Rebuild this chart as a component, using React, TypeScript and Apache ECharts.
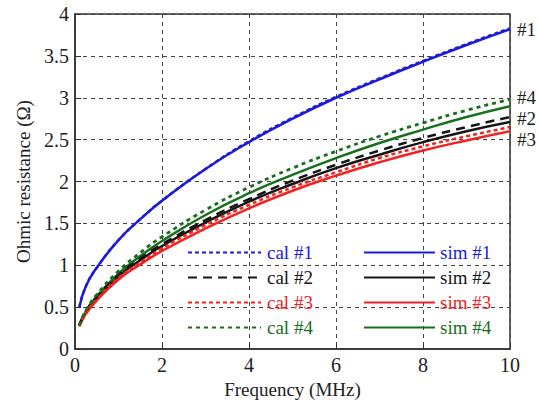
import React, { useEffect, useRef } from "react";
import * as echarts from "echarts";

const freq = [0.1, 0.25, 0.5, 1, 1.5, 2, 3, 4, 5, 6, 7, 8, 9, 10];
const sim1 = [0.5, 0.75, 0.97, 1.3, 1.55, 1.77, 2.15, 2.47, 2.75, 3.0, 3.22, 3.43, 3.63, 3.82];
const cal1 = [0.5, 0.75, 0.97, 1.3, 1.55, 1.77, 2.15, 2.48, 2.76, 3.01, 3.23, 3.44, 3.64, 3.83];
const sim2 = [0.28, 0.44, 0.61, 0.87, 1.06, 1.23, 1.51, 1.76, 1.97, 2.16, 2.32, 2.47, 2.6, 2.71];
const cal2 = [0.28, 0.45, 0.62, 0.88, 1.08, 1.25, 1.54, 1.79, 2.01, 2.2, 2.37, 2.52, 2.65, 2.77];
const sim3 = [0.27, 0.42, 0.58, 0.83, 1.01, 1.17, 1.44, 1.68, 1.89, 2.07, 2.23, 2.37, 2.49, 2.6];
const cal3 = [0.27, 0.43, 0.59, 0.85, 1.03, 1.2, 1.48, 1.72, 1.93, 2.11, 2.28, 2.42, 2.54, 2.65];
const sim4 = [0.28, 0.45, 0.63, 0.9, 1.11, 1.29, 1.6, 1.86, 2.08, 2.28, 2.46, 2.62, 2.77, 2.9];
const cal4 = [0.29, 0.46, 0.65, 0.93, 1.15, 1.34, 1.66, 1.93, 2.16, 2.36, 2.54, 2.7, 2.85, 2.98];

const BLUE = "#1c1cd8";
const BLACK = "#151515";
const RED = "#f22222";
const GREEN = "#186f1d";
const FONT = "Liberation Serif";

export default function App() {
  const ref = useRef<HTMLDivElement>(null);
  useEffect(() => {
    if (!ref.current) return;
    const chart = echarts.init(ref.current, undefined, { renderer: "svg" });
    const pairs = (ys: number[]) => freq.map((x, i) => [x, ys[i]]);
    const mk = (
      name: string,
      data: number[],
      color: string,
      type: any,
      width: number,
      z: number,
      endText?: string,
      offset?: number[]
    ) => ({
      name,
      type: "line",
      data: pairs(data),
      smooth: true,
      symbol: "none",
      z,
      lineStyle: { color, width, type },
      itemStyle: { color },
      endLabel: endText
        ? {
            show: true,
            formatter: endText,
            distance: 7,
            offset: offset || [0, 0],
            color: "#222",
            fontFamily: FONT,
            fontSize: 19,
            width: 30,
            overflow: "none",
          }
        : undefined,
    });
    const legText = (name: string, color: string) => ({
      name,
      textStyle: { color },
    });
    const axisCommon = {
      nameLocation: "middle",
      nameTextStyle: { fontFamily: FONT, fontSize: 19, color: "#222" },
      axisLine: { show: true, lineStyle: { color: "#333", width: 1.5 } },
      axisTick: { show: true, inside: true, length: 6, lineStyle: { color: "#333" } },
      axisLabel: { fontFamily: FONT, fontSize: 20, color: "#222", margin: 6 },
      splitLine: { show: true, lineStyle: { color: "#444", width: 1, type: [4, 4] } },
    };
    chart.setOption({
      animation: false,
      grid: {
        left: 75,
        right: 28,
        top: 14,
        bottom: 55,
        show: true,
        borderColor: "#333",
        borderWidth: 1.5,
        backgroundColor: "transparent",
      },
      xAxis: {
        ...axisCommon,
        type: "value",
        min: 0,
        max: 10,
        interval: 2,
        name: "Frequency (MHz)",
        nameGap: 31,
      },
      yAxis: {
        ...axisCommon,
        type: "value",
        min: 0,
        max: 4,
        interval: 0.5,
        name: "Ohmic resistance (Ω)",
        nameGap: 40,
      },
      legend: [
        {
          orient: "vertical",
          left: 182,
          top: 238,
          itemWidth: 73,
          itemHeight: 20,
          itemGap: 6,
          selectedMode: false,
          itemStyle: { opacity: 0 },
          textStyle: { fontFamily: FONT, fontSize: 19, padding: [0, 0, 0, 1] },
          data: [
            legText("cal #1", BLUE),
            legText("cal #2", BLACK),
            legText("cal #3", RED),
            legText("cal #4", GREEN),
          ],
        },
        {
          orient: "vertical",
          left: 358,
          top: 238,
          itemWidth: 71,
          itemHeight: 20,
          itemGap: 6,
          selectedMode: false,
          itemStyle: { opacity: 0 },
          textStyle: { fontFamily: FONT, fontSize: 19, padding: [0, 0, 0, 0] },
          data: [
            legText("sim #1", BLUE),
            legText("sim #2", BLACK),
            legText("sim #3", RED),
            legText("sim #4", GREEN),
          ],
        },
      ],
      series: [
        mk("sim #1", sim1, BLUE, "solid", 2.5, 2, "#1", [0, 0]),
        mk("sim #2", sim2, BLACK, "solid", 2.5, 2),
        mk("sim #3", sim3, RED, "solid", 2.5, 2, "#3", [0, 8]),
        mk("sim #4", sim4, GREEN, "solid", 2.5, 2),
        mk("cal #1", cal1, BLUE, [4, 3], 2.5, 3),
        mk("cal #2", cal2, BLACK, [9, 6], 2.5, 3, "#2", [0, 1]),
        mk("cal #3", cal3, RED, [4, 3], 2.5, 3),
        mk("cal #4", cal4, GREEN, [4, 4], 2.8, 3, "#4", [0, -2]),
      ],
    });
    return () => chart.dispose();
  }, []);
  return (
    <div
      ref={ref}
      style={{ width: 538, height: 404, position: "absolute", left: 0, top: 0 }}
    />
  );
}
